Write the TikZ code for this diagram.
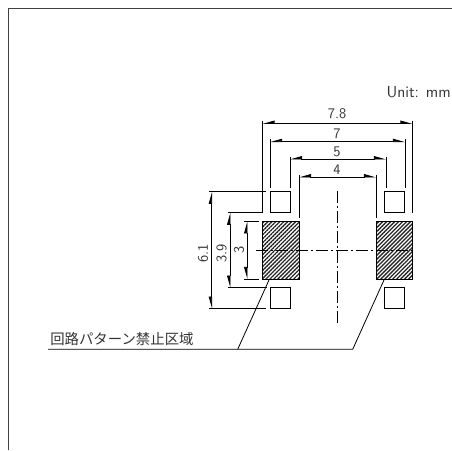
\documentclass[tikz,border=0pt]{standalone}
\usepackage{fontspec}
\newfontfamily\cjk{Noto Sans CJK JP}
\usetikzlibrary{arrows.meta,patterns.meta}
\tikzset{
  dimline/.style={line width=.6pt,{Stealth[harpoon,swap,length=8pt,width=4.4pt,inset=0pt]}-{Stealth[harpoon,length=8pt,width=4.4pt,inset=0pt]}},
  extline/.style={line width=.6pt},
  dimlabel/.style={font=\sffamily\fontsize{11pt}{12pt}\selectfont,text=black!80,inner sep=0pt},
  padbox/.style={draw,line width=.6pt,fill=white,minimum width=15pt,minimum height=15.7pt,inner sep=0pt},
  hatchbox/.style={draw,line width=.7pt,fill=black!40,pattern={Lines[angle=45,distance=2.1pt,line width=1pt]},pattern color=black!85},
  centerline/.style={line width=.6pt,dash pattern=on 9pt off 2pt on 2pt off 2pt}
}
\begin{document}
\begin{tikzpicture}[x=.75pt,y=-.75pt]
    \useasboundingbox (0,0) rectangle (452,450);

    % frame
    \coordinate (frame0) at (8.5,450);
    \coordinate (frame1) at (8.5,8.5);
    \coordinate (frame2) at (452,8.5);
    \draw[line width=.7pt,black!75] (frame0)--(frame1)--(frame2);

    % pads
    \node[padbox] (padtl) at (280.2,202.2) {};
    \node[padbox] (padtr) at (394.8,202.2) {};
    \node[padbox] (padbl) at (280.2,298) {};
    \node[padbox] (padbr) at (394.8,298) {};

    \draw[hatchbox] (262.7,221.3) rectangle (299,279);
    \draw[hatchbox] (376,221.3) rectangle (412.3,279);

    % center lines
    \coordinate (cvt) at (337.7,191);
    \coordinate (cvb) at (337.7,323);
    \coordinate (chl) at (256,250);
    \coordinate (chr) at (415.7,250);
    \draw[centerline] (cvt)--(cvb);
    \draw[centerline] (chl)--(chr);

    % horizontal dimensions
    \coordinate (a1) at (262.5,123.5);
    \coordinate (a2) at (412.5,123.5);
    \coordinate (b1) at (270,141.7);
    \coordinate (b2) at (405,141.7);
    \coordinate (c1) at (290,159);
    \coordinate (c2) at (386,159);
    \coordinate (d1) at (299,177);
    \coordinate (d2) at (376,177);

    % vertical dimensions
    \coordinate (e1) at (211.7,191.7);
    \coordinate (e2) at (211.7,308.7);
    \coordinate (f1) at (230,212.7);
    \coordinate (f2) at (230,287.7);
    \coordinate (g1) at (247,221.3);
    \coordinate (g2) at (247,279);

    \foreach \from/\to in {a1/a2,b1/b2,c1/c2,d1/d2,e2/e1,f2/f1,g2/g1}
    \draw[dimline] (\from)--(\to);

    % extension lines
    \draw[extline] (262.5,121)--(262.5,212.7);
    \draw[extline] (412.5,121)--(412.5,212.7);
    \draw[extline] (270,139)--(270,188);
    \draw[extline] (405,139)--(405,188);
    \draw[extline] (290,157)--(290,188);
    \draw[extline] (386,157)--(386,188);
    \draw[extline] (299,175)--(299,217.5);
    \draw[extline] (376,175)--(376,217.5);
    \draw[extline] (209,191.7)--(266,191.7);
    \draw[extline] (209,308.7)--(266,308.7);
    \draw[extline] (228,212.7)--(263,212.7);
    \draw[extline] (228,287.7)--(267,287.7);
    \draw[extline] (244,221.3)--(259,221.3);
    \draw[extline] (244,279)--(259,279);

    % leaders
    \coordinate (leadstart) at (48,349.3);
    \coordinate (lead1) at (237.7,349.3);
    \coordinate (lead2) at (352.7,349.3);
    \coordinate (hatch1) at (269,280);
    \coordinate (hatch2) at (384,280);
    \draw[extline] (leadstart)--(lead2)--(hatch2);
    \draw[extline] (lead1)--(hatch1);

    % label
    \node[dimlabel] (dim78) at (337,114) {7.8};
    \node[dimlabel] (dim7) at (337,133.5) {7};
    \node[dimlabel] (dim5) at (337,152) {5};
    \node[dimlabel] (dim4) at (337,169.5) {4};
    \node[dimlabel,rotate=90] (dim61) at (203,253) {6.1};
    \node[dimlabel,rotate=90] (dim39) at (221.5,253) {3.9};
    \node[dimlabel,rotate=90] (dim3) at (239,250) {3};
    \node[dimlabel,anchor=east,font=\sffamily\fontsize{12pt}{13pt}\selectfont] (unit) at (451,92.5) {Unit: mm};
    \node[dimlabel,anchor=west,font=\cjk\fontsize{10.8pt}{11pt}\selectfont] (keepout) at (50,339.5) {回路パターン禁止区域};
\end{tikzpicture}
\end{document}
